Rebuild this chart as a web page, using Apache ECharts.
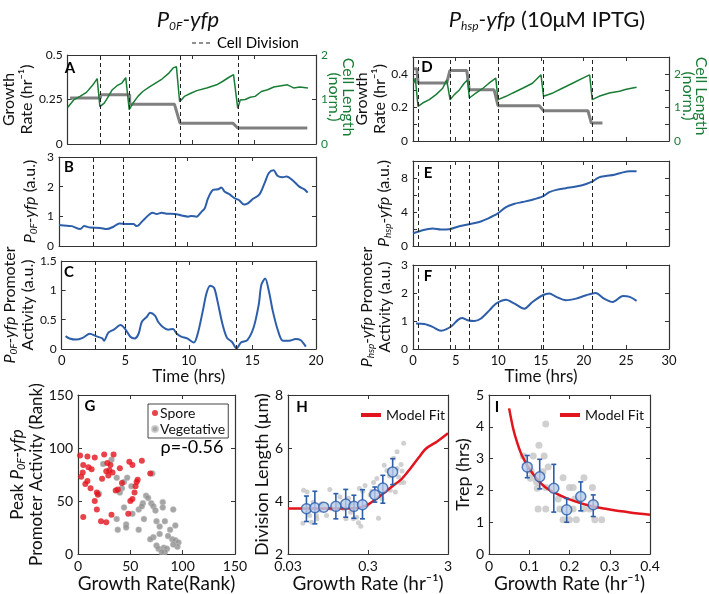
<!DOCTYPE html>
<html><head><meta charset="utf-8">
<script src="https://cdn.jsdelivr.net/npm/echarts@6/dist/echarts.min.js"></script>
<style>html,body{margin:0;padding:0;background:#fff}#c{width:709px;height:594px}</style>
</head><body><div id="c"></div>
<script>
// ---------- DATA ----------
const divA = [2.65, 5.0, 9.05, 13.7];
const aRateT = [0.2, 2.65, 2.65, 5.0, 5.0, 8.6, 9.05, 13.3, 13.7, 19.3];
const aRateV = [0.258, 0.258, 0.276, 0.276, 0.224, 0.224, 0.117, 0.117, 0.09, 0.09];
const aLenT = [0,0.49,1.0,1.52,2.04,2.38,2.6,2.95,3.2,3.6,3.98,4.37,4.68,4.96,5.27,5.66,6.05,6.56,7.08,7.6,8.11,8.5,8.76,9.02,9.4,9.92,10.4,11.2,12.0,12.5,13.0,13.36,13.7,13.9,14.3,14.7,15.1,15.6,16.1,16.6,17.2,17.7,18.2,18.7,19.35];
const aLenV = [0.82,0.99,1.07,1.16,1.33,1.47,0.84,0.92,1.03,1.22,1.31,1.37,1.49,0.77,0.92,1.07,1.18,1.28,1.37,1.46,1.58,1.71,1.74,0.95,1.07,1.14,1.2,1.26,1.33,1.41,1.5,1.56,0.8,0.99,1.0,1.05,1.07,1.18,1.22,1.28,1.31,1.33,1.26,1.28,1.26];
const bT = [0,0.62,1.0,1.65,1.96,2.43,3.2,3.72,4.24,4.7,5.27,5.79,6.05,6.56,7.29,7.6,7.98,8.37,9.02,9.53,10.05,10.3,10.7,11.1,11.34,11.6,11.99,12.38,12.64,12.9,13.28,13.67,14.0,14.4,14.7,15.1,15.6,16.0,16.33,16.7,17.0,17.4,17.7,18.2,18.7,19.1,19.35];
const bV = [0.71,0.68,0.67,0.57,0.67,0.62,0.61,0.57,0.65,0.76,0.74,0.74,0.67,0.87,1.12,1.08,1.12,1.09,1.08,1.03,0.99,1.01,0.99,1.16,1.27,1.61,1.89,1.91,1.97,1.83,1.74,1.61,1.55,1.4,1.44,1.59,1.74,2.12,2.46,2.55,2.37,2.32,2.34,2.21,2.0,1.91,1.8];
const cT = [0.31,0.62,1.14,1.65,2.22,2.69,3.2,3.33,3.67,4.1,4.63,5.0,5.4,5.74,6.05,6.3,6.7,6.95,7.34,7.6,7.98,8.37,8.76,9.02,9.4,9.87,10.4,10.7,11.1,11.4,11.68,11.99,12.25,12.64,13.0,13.4,13.75,14.1,14.6,15.1,15.5,15.7,16.0,16.3,16.6,17.0,17.4,17.9,18.4,18.8,19.2];
const cV = [0.22,0.18,0.16,0.19,0.26,0.22,0.18,0.14,0.28,0.33,0.41,0.34,0.21,0.18,0.26,0.46,0.55,0.62,0.57,0.46,0.37,0.33,0.34,0.27,0.21,0.18,0.11,0.26,0.65,0.96,1.08,1.04,0.82,0.43,0.19,0.12,0.01,0.11,0.15,0.37,0.76,1.09,1.2,0.98,0.65,0.32,0.14,0.14,0.17,0.15,0.04];

const divD = [0.6, 4.33, 6.65, 10.0, 15.3, 21.0];
const dRateT = [0.1, 0.45, 0.6, 3.95, 4.33, 6.3, 6.6, 9.5, 9.96, 14.8, 15.3, 20.5, 20.9, 22.2];
const dRateV = [0.43, 0.43, 0.345, 0.345, 0.42, 0.42, 0.305, 0.305, 0.21, 0.21, 0.18, 0.18, 0.107, 0.107];
const dLenT = [0.08,0.27,0.59,1.13,1.91,2.7,3.48,3.95,4.15,4.34,4.84,5.43,6.0,6.4,6.6,7.4,8.2,8.9,9.7,9.96,10.9,11.7,12.85,14.0,15.0,15.3,16.4,17.5,18.7,19.9,20.7,21.0,21.8,23.0,24.2,25.0,26.2];
const dLenV = [1.72,1.87,1.03,1.13,1.23,1.38,1.57,1.82,1.87,1.23,1.38,1.52,1.72,1.82,1.28,1.43,1.57,1.72,1.87,1.23,1.33,1.43,1.57,1.72,1.97,1.33,1.43,1.57,1.72,1.87,1.97,1.23,1.33,1.43,1.48,1.54,1.6];
const eT = [0,1.13,2.3,3.28,4.26,5.43,6.6,7.77,8.75,9.9,10.9,11.9,12.85,14.0,15.2,15.98,16.8,17.9,19.1,20.3,21.05,21.8,22.6,23.6,24.6,25.4,26.2];
const eV = [1.48,1.86,2.06,1.94,1.98,2.33,2.56,2.83,3.22,3.8,4.58,4.97,5.17,5.44,5.83,6.33,6.6,6.8,6.99,7.3,7.6,8.08,8.23,8.39,8.66,8.78,8.78];
const fT = [0.35,1.33,2.3,3.28,3.87,4.65,5.23,5.74,6.4,7.2,7.97,8.95,9.73,10.9,11.9,13.05,14.0,15.2,15.98,16.8,17.9,19.1,20.3,21.4,22.4,23.4,24.6,25.4,26.2];
const fV = [0.91,0.89,0.79,0.65,0.7,0.85,1.03,1.11,1.03,1.0,1.09,1.38,1.62,1.76,1.62,1.44,1.68,1.92,1.98,1.86,1.74,1.8,1.92,2.0,1.8,1.68,1.89,1.86,1.72];

const gSporeX = [2,9,16,25,34,5,4.5,3,10,13,7,12,9,18,19,16,18,5,22,27,23,28,27,30,29,33,31,36,38,40,42,49,52,61,69,56,55,54,52,50,48,32,57];
const gSporeY = [93,92,91,94,94,84,77,73,82,80,66,62,69,58,56,50,42,35,31,30,71,86,78,79,74,77,84,60,61,81,67,87,84,88,76,68,64,58,52,50,38,37,70];
const gVegX = [24,32,20,37,44,42,40,44,37,38,46,46,52,58,58,63,65,67,62,61,70,72,74,81,81,75,78,83,88,93,91,72,69,78,75,77,82,85,83,80,90,93,96,95,91,86,71,51,47];
const gVegY = [85,89,57,72,68,62,58,44,33,23,28,25,38,42,23,33,55,53,48,45,48,45,41,49,44,31,26,31,23,27,42,16,14,19,8,5,6,5,2,2,14,13,11,7,9,17,76,64,72];

const hMeanX = [0.051,0.065,0.084,0.119,0.158,0.2,0.256,0.365,0.46,0.61];
const hMeanY = [3.71,3.75,3.77,3.8,3.89,3.8,3.86,4.24,4.49,5.1];
const hLo = [3.23,3.14,3.77,3.33,3.39,3.35,3.33,3.96,3.92,4.62];
const hHi = [4.19,4.37,3.77,4.28,4.44,4.22,4.43,4.53,4.97,5.6];
const hGrayX = [0.047,0.052,0.046,0.059,0.056,0.069,0.074,0.100,0.105,0.124,0.148,0.171,0.182,0.197,0.217,0.228,0.244,0.234,0.276,0.290,0.335,0.352,0.387,0.406,0.479,0.517,0.559,0.628,0.692,0.726,0.762,0.777,0.838,0.800,0.570,0.659,0.448,0.319,0.134,0.091,0.079,0.062,0.054,0.068,0.159,0.197,0.258,0.838,0.692];
const hGrayY = [4.41,4.34,3.16,3.20,3.46,3.33,3.65,4.44,3.71,3.86,3.71,4.11,3.58,3.33,3.39,3.18,3.05,4.47,4.59,3.84,4.37,4.70,4.85,3.35,5.35,5.15,4.95,5.61,5.86,4.91,4.70,5.38,6.18,5.13,4.41,4.34,4.09,4.24,4.15,3.46,3.90,3.96,3.65,3.46,3.33,3.90,4.37,4.70,5.23];
const hFitX = [0.03,0.1,0.2,0.25,0.3,0.35,0.45,0.6,0.8,1.0,1.3,1.6,2.2,3.0];
const hFitY = [3.72,3.72,3.73,3.78,3.87,4.0,4.25,4.55,4.85,5.2,5.65,5.98,6.25,6.56];
const hTicks = [0.03, 0.3, 3];

const iMeanX = [0.095,0.126,0.161,0.193,0.228,0.259];
const iMeanY = [2.74,2.43,2.07,1.39,1.81,1.55];
const iLo = [2.4,2.05,1.32,1.0,1.36,1.18];
const iHi = [3.1,2.98,2.82,1.75,2.27,1.86];
const iGrayX = [0.141,0.124,0.11,0.137,0.085,0.105,0.147,0.134,0.118,0.103,0.184,0.12,0.141,0.172,0.209,0.2,0.236,0.257,0.213,0.122,0.141,0.176,0.234,0.249,0.184,0.2,0.217,0.263,0.28,0.209];
const iGrayY = [4.09,3.42,3.08,3.08,3.08,2.6,2.74,2.59,2.27,2.38,2.4,2.07,2.09,1.73,2.09,2.09,2.4,2.09,1.73,1.42,1.42,1.42,1.42,1.42,1.08,1.08,1.08,1.08,1.08,1.42];
const iFitX = [0.05,0.06,0.07,0.08,0.09,0.1,0.12,0.14,0.16,0.2,0.25,0.3,0.35,0.4];
const iFitY = [4.58,3.95,3.5,3.15,2.9,2.68,2.35,2.1,1.95,1.72,1.52,1.4,1.31,1.24];

// ---------- STYLE ----------
const FF = 'Lato, "Open Sans", sans-serif';
const AX = '#333';
const GRAY = '#808080', GREEN = '#1a7d36', BLUE = '#2d5ea9', RED = '#e2141d';
const zip = (a, b) => a.map((v, i) => [v, b[i]]);
const lg = v => Math.log10(v);

function rich(fs, color) {
  const c = color || '#111';
  return {
    n: {fontSize: fs, fontFamily: FF, color: c, lineHeight: fs + 2},
    i: {fontSize: fs, fontFamily: FF, color: c, fontStyle: 'italic', lineHeight: fs + 2},
    s: {fontSize: Math.round(fs * 0.62), fontFamily: FF, color: c, fontStyle: 'italic',
        lineHeight: Math.round(fs * 0.62), verticalAlign: 'bottom', padding: [Math.round(fs * 0.5), 0, 0, 0]}
  };
}

const grids = [], xAxes = [], yAxes = [], series = [];
function mkAxis(gi, c, pos) {
  const ax = {
    type: 'value', gridIndex: gi, position: pos, min: c.min, max: c.max, interval: c.interval,
    axisLine: {show: true, onZero: false, lineStyle: {color: AX, width: 1.2}},
    axisTick: {show: true, inside: true, length: 4, lineStyle: {color: AX}},
    axisLabel: {show: c.label !== false, color: c.color || '#111', fontSize: c.fs || 12, fontFamily: FF,
      margin: c.margin || 5, showMinLabel: true, showMaxLabel: true},
    splitLine: {show: false},
    name: c.name || '', nameLocation: 'middle', nameGap: c.gap || 20, nameRotate: c.rot || 0,
    nameTextStyle: {fontSize: c.nfs || 16, fontFamily: FF, color: c.ncolor || '#111', rich: rich(c.nfs || 16, c.ncolor)}
  };
  if (c.fmt) ax.axisLabel.formatter = c.fmt;
  if (c.labelValues) ax.axisLabel.customValues = c.labelValues;
  if (c.tickValues) ax.axisTick.customValues = c.tickValues;
  return ax;
}
function panel(g, xc, yc, y2c) {
  const gi = grids.length;
  grids.push(Object.assign({containLabel: false, show: false}, g));
  const xi = xAxes.length;
  xAxes.push(mkAxis(gi, xc, 'bottom'));
  xAxes.push(mkAxis(gi, Object.assign({}, xc, {label: false, name: ''}), 'top'));
  const yi = yAxes.length;
  yAxes.push(mkAxis(gi, yc, 'left'));
  yAxes.push(mkAxis(gi, y2c || Object.assign({}, yc, {label: false, name: ''}), 'right'));
  return {xi, yi, yi2: yi + 1};
}
const divMark = ts => ({silent: true, symbol: ['none', 'none'], label: {show: false},
  lineStyle: {color: '#222', type: [4, 3], width: 1}, emphasis: {disabled: true},
  data: ts.map(t => ({xAxis: t}))});
function line(p, yi, data, color, width, extra) {
  series.push(Object.assign({type: 'line', xAxisIndex: p.xi, yAxisIndex: yi, data, showSymbol: false,
    lineStyle: {color, width}, itemStyle: {color}, emphasis: {disabled: true}}, extra || {}));
}
function errBars(p, xs, ys, lo, hi, tx) {
  series.push({type: 'custom', xAxisIndex: p.xi, yAxisIndex: p.yi, z: 4,
    data: xs.map((x, k) => [tx(x), ys[k], lo[k], hi[k]]),
    encode: {x: 0, y: [2, 3]},
    renderItem: (params, api) => {
      const x = api.value(0), l = api.value(2), h = api.value(3);
      if (h - l < 1e-6) return {type: 'group', children: []};
      const a = api.coord([x, l]), b = api.coord([x, h]);
      const st = {stroke: BLUE, lineWidth: 1.6};
      return {type: 'group', children: [
        {type: 'line', shape: {x1: a[0], y1: a[1], x2: b[0], y2: b[1]}, style: st},
        {type: 'line', shape: {x1: a[0] - 2.5, y1: a[1], x2: a[0] + 2.5, y2: a[1]}, style: st},
        {type: 'line', shape: {x1: b[0] - 2.5, y1: b[1], x2: b[0] + 2.5, y2: b[1]}, style: st}
      ]};
    }});
}
const nz = v => v;

// ---------- PANELS ----------
const pA = panel({left: 59, top: 55, width: 257, height: 89},
  {min: 0, max: 20, interval: 5, label: false},
  {min: 0, max: 0.5, interval: 0.25, name: '{n|Growth}\n{n|Rate (hr⁻¹)}', rot: 90, gap: 30},
  {min: 0, max: 2, interval: 1, color: GREEN});
line(pA, pA.yi, zip(aRateT, aRateV), GRAY, 3, {markLine: divMark(divA)});
line(pA, pA.yi2, zip(aLenT, aLenV), GREEN, 1.5);

const pB = panel({left: 59, top: 157, width: 257, height: 89},
  {min: 0, max: 20, interval: 5, label: false},
  {min: 0, max: 3, interval: 1, name: '{i|P}{s|0F}{i|-yfp}{n| (a.u.)}', rot: 90, gap: 20});
line(pB, pB.yi, zip(bT, bV), BLUE, 2, {smooth: 0.3, markLine: divMark(divA)});

const pC = panel({left: 59, top: 261, width: 257, height: 88},
  {min: 0, max: 20, interval: 5, name: 'Time (hrs)', gap: 13, nfs: 17, fs: 13},
  {min: 0, max: 1.5, interval: 0.5, name: '{i|P}{s|0F}{i|-yfp}{n| Promoter}\n{n|Activity (a.u.)}', rot: 90, gap: 24});
line(pC, pC.yi, zip(cT, cV), BLUE, 2, {smooth: 0.3, markLine: divMark(divA)});

const pD = panel({left: 413, top: 57, width: 256, height: 84},
  {min: 0, max: 30, interval: 5, label: false},
  {min: 0, max: 0.5, interval: 0.1, fmt: v => { const k = Math.round(v * 10); return (k % 2 === 0 && k <= 4) ? String(k / 10) : ''; },
   name: '{n|Growth}\n{n|Rate (hr⁻¹)}', rot: 90, gap: 23},
  {min: 0, max: 2.5, interval: 0.5, color: GREEN, fmt: v => (Math.abs(v - Math.round(v)) < 1e-6 ? String(Math.round(v)) : '')});
line(pD, pD.yi, zip(dRateT, dRateV), GRAY, 3, {markLine: divMark(divD)});
line(pD, pD.yi2, zip(dLenT, dLenV), GREEN, 1.5);

const pE = panel({left: 413, top: 161, width: 256, height: 85},
  {min: 0, max: 30, interval: 5, label: false},
  {min: 0, max: 10, interval: 2, fmt: v => (v % 4 === 0 && v < 10 ? String(v) : ''),
   name: '{i|P}{s|hsp}{i|-yfp}{n| (a.u.)}', rot: 90, gap: 20});
line(pE, pE.yi, zip(eT, eV), BLUE, 2, {smooth: 0.3, markLine: divMark(divD)});

const pF = panel({left: 413, top: 265, width: 256, height: 84},
  {min: 0, max: 30, interval: 5, name: 'Time (hrs)', gap: 13, nfs: 17, fs: 13},
  {min: 0, max: 3, interval: 1, name: '{i|P}{s|hsp}{i|-yfp}{n| Promoter}\n{n|Activity (a.u.)}', rot: 90, gap: 19});
line(pF, pF.yi, zip(fT, fV), BLUE, 2, {smooth: 0.3, markLine: divMark(divD)});

const pG = panel({left: 78, top: 395, width: 157, height: 160},
  {min: 0, max: 150, interval: 50, name: 'Growth Rate(Rank)', gap: 17, nfs: 19, fs: 14},
  {min: 0, max: 150, interval: 50, name: '{n|Peak }{i|P}{s|0F}{i|-yfp}\n{n|Promoter Activity (Rank)}', rot: 90, gap: 31, nfs: 17, fs: 14});
series.push({type: 'scatter', name: 'Vegetative', xAxisIndex: pG.xi, yAxisIndex: pG.yi, data: zip(gVegX, gVegY),
  symbolSize: 6, itemStyle: {color: '#8e8e8e', borderColor: '#c8c8c8', borderWidth: 0.6}, emphasis: {disabled: true}});
series.push({type: 'scatter', name: 'Spore', xAxisIndex: pG.xi, yAxisIndex: pG.yi, data: zip(gSporeX, gSporeY),
  symbolSize: 6, itemStyle: {color: RED}, emphasis: {disabled: true}});

const pH = panel({left: 288, top: 395, width: 160, height: 160},
  {min: lg(0.03), max: lg(3), labelValues: hTicks.map(lg), tickValues: hTicks.map(lg),
   fmt: v => String(+Math.pow(10, v).toPrecision(2)), name: 'Growth Rate (hr⁻¹)', gap: 17, nfs: 19, fs: 14},
  {min: 2, max: 8, interval: 2, name: 'Division Length (µm)', rot: 90, gap: 16, nfs: 18, fs: 14});
series.push({type: 'scatter', xAxisIndex: pH.xi, yAxisIndex: pH.yi, data: hGrayX.map((x, k) => [lg(x), hGrayY[k]]),
  symbolSize: 5, itemStyle: {color: '#c4c4c4'}, emphasis: {disabled: true}, z: 1});
line(pH, pH.yi, hFitX.map((x, k) => [lg(x), hFitY[k]]), RED, 2.5, {name: 'Model Fit', smooth: 0.3, z: 3});
errBars(pH, hMeanX, hMeanY, hLo, hHi, lg);
series.push({type: 'scatter', xAxisIndex: pH.xi, yAxisIndex: pH.yi, data: hMeanX.map((x, k) => [lg(x), hMeanY[k]]),
  symbolSize: 10, itemStyle: {color: '#b8cce9', borderColor: BLUE, borderWidth: 1.5}, emphasis: {disabled: true}, z: 5});

const pI = panel({left: 489, top: 395, width: 161, height: 161},
  {min: 0, max: 0.4, interval: 0.1, name: 'Growth Rate (hr⁻¹)', gap: 17, nfs: 19, fs: 14},
  {min: 0, max: 5, interval: 1, name: 'Trep (hrs)', rot: 90, gap: 13, nfs: 18, fs: 14});
series.push({type: 'scatter', xAxisIndex: pI.xi, yAxisIndex: pI.yi, data: zip(iGrayX, iGrayY),
  symbolSize: 7, itemStyle: {color: '#c4c4c4'}, emphasis: {disabled: true}, z: 1});
line(pI, pI.yi, zip(iFitX, iFitY), RED, 2.5, {name: 'Model Fit', smooth: 0.3, z: 3});
errBars(pI, iMeanX, iMeanY, iLo, iHi, nz);
series.push({type: 'scatter', xAxisIndex: pI.xi, yAxisIndex: pI.yi, data: zip(iMeanX, iMeanY),
  symbolSize: 10, itemStyle: {color: '#b8cce9', borderColor: BLUE, borderWidth: 1.5}, emphasis: {disabled: true}, z: 5});

// ---------- TEXT / GRAPHICS ----------
const tStyle = (text, x, y, font, extra, rot) => ({type: 'text', x, y, rotation: rot || 0, z: 100, silent: true,
  style: Object.assign({text, font, fill: '#000', align: 'center', verticalAlign: 'middle',
    textAlign: 'center', textVerticalAlign: 'middle'}, extra || {})});
const titleRich = {
  i: {fontSize: 22, fontFamily: FF, fontStyle: 'italic', lineHeight: 25, fill: '#111'},
  n: {fontSize: 22, fontFamily: FF, lineHeight: 25, fill: '#111'},
  s: {fontSize: 12, fontFamily: FF, fontStyle: 'italic', lineHeight: 12, verticalAlign: 'bottom', padding: [8, 0, 0, 0], fill: '#111'}
};
const letters = [['A', 70, 68], ['B', 69, 167], ['C', 69, 272], ['D', 427, 67], ['E', 428, 173], ['F', 428, 276],
  ['G', 90, 406], ['H', 302, 407], ['I', 497, 407]];
const CW = -Math.PI / 2;
const graphic = [
  tStyle('{i|P}{s|0F}{i|-yfp}', 188, 20, '22px ' + FF, {rich: titleRich}),
  tStyle('{i|P}{s|hsp}{i|-yfp}{n| (10μM IPTG)}', 547, 20, '22px ' + FF, {rich: titleRich}),
  {type: 'line', z: 100, silent: true, shape: {x1: 192, y1: 43, x2: 212, y2: 43}, style: {stroke: '#222', lineWidth: 1.2, lineDash: [4, 3]}},
  tStyle('Cell Division', 217, 43, '15px ' + FF, {align: 'left', textAlign: 'left'}),
  tStyle('ρ=-0.56', 192, 447, '18px ' + FF),
  tStyle('Cell Length', 348, 97, '16px ' + FF, {fill: GREEN}, CW),
  tStyle('(norm.)', 334, 97, '16px ' + FF, {fill: GREEN}, CW),
  tStyle('Cell Length', 701, 96, '16px ' + FF, {fill: GREEN}, CW),
  tStyle('(norm.)', 688, 96, '16px ' + FF, {fill: GREEN}, CW),
].concat(letters.map(l => tStyle(l[0], l[1], l[2], 'bold 15px ' + FF)));

const option = {
  animation: false,
  backgroundColor: '#fff',
  grid: grids, xAxis: xAxes, yAxis: yAxes, series, graphic,
  legend: [
    {data: ['Spore', 'Vegetative'], orient: 'vertical', left: 148, top: 404, itemWidth: 6, itemHeight: 6, itemGap: 2,
     icon: 'circle', borderColor: '#444', borderWidth: 1, padding: [2, 3, 2, 3], selectedMode: false,
     textStyle: {fontSize: 14, fontFamily: FF, color: '#111', padding: [0, 0, 0, -3]}},
    {data: ['Model Fit'], left: 356, top: 403, itemWidth: 20, itemHeight: 4, icon: 'rect', selectedMode: false,
     textStyle: {fontSize: 14, fontFamily: FF, color: '#111'}},
    {data: ['Model Fit'], left: 555, top: 403, itemWidth: 20, itemHeight: 4, icon: 'rect', selectedMode: false,
     textStyle: {fontSize: 14, fontFamily: FF, color: '#111'}}
  ]
};
const chart = echarts.init(document.getElementById('c'), null, {renderer: 'canvas'});
chart.setOption(option);
</script></body></html>
